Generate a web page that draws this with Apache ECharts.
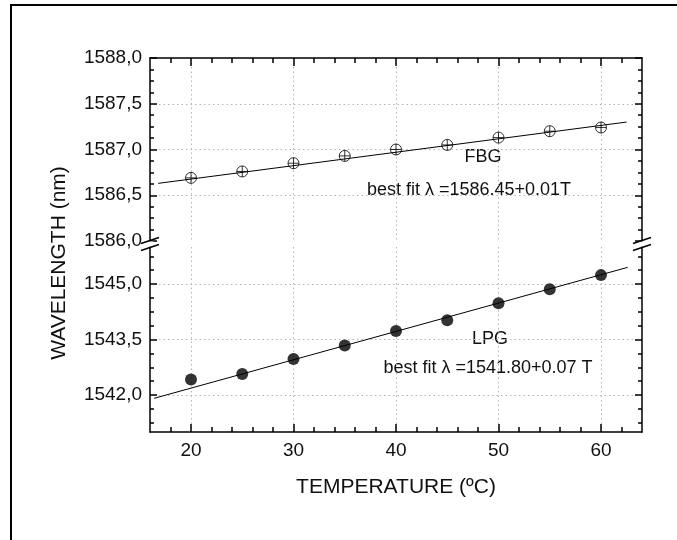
<!DOCTYPE html>
<html>
<head>
<meta charset="utf-8">
<script src="https://cdn.jsdelivr.net/npm/echarts@6/dist/echarts.min.js"></script>
<style>
html,body{margin:0;padding:0;background:#fff;}
#chart{width:677px;height:540px;}
</style>
</head>
<body>
<div id="chart"></div>
<script>
// ---- data ----
var temperature = [20, 25, 30, 35, 40, 45, 50, 55, 60];
var fbgWavelength = [1586.69, 1586.76, 1586.85, 1586.93, 1587.00, 1587.05, 1587.13, 1587.20, 1587.24];
var lpgWavelength = [1542.42, 1542.57, 1542.97, 1543.34, 1543.73, 1544.02, 1544.48, 1544.86, 1545.24];
var fbgFitT = [16.8, 62.5];
var fbgFitW = [1586.63, 1587.30];
var lpgFitT = [16.4, 62.6];
var lpgFitW = [1541.91, 1545.45];
var xMajorTicks = [20, 30, 40, 50, 60];
var xMinorTicks = [18, 22, 24, 26, 28, 32, 34, 36, 38, 42, 44, 46, 48, 52, 54, 56, 58, 62];
var lowerMajorTicks = [1542.0, 1543.5, 1545.0];
var lowerMinorTicks = [1541.25, 1541.625, 1542.375, 1542.75, 1543.125, 1543.875, 1544.25, 1544.625, 1545.375, 1545.75];
var xTitle = 'TEMPERATURE (ºC)';
var yTitle = 'WAVELENGTH (nm)';
var fbgName = 'FBG';
var fbgFitText = 'best fit λ =1586.45+0.01T';
var lpgName = 'LPG';
var lpgFitText = 'best fit λ =1541.80+0.07 T';

// ---- layout ----
var FONT = 'Liberation Sans, Arial, sans-serif';
var L = 150, R = 642, T1 = 58, B1 = 241, T2 = 247, B2 = 432;
var W = 677;
var lineStyle = {color: '#000', width: 1.5};
var gridStyle = {color: '#b4b4b4', width: 1, type: [1.5, 3]};
function fmt(v) { return v.toFixed(1).replace('.', ','); }
function pairs(xs, ys) { return xs.map(function (x, i) { return [x, ys[i]]; }); }

function xAxisDef(grid, pos, major, labels, split) {
  return {
    type: 'value', gridIndex: grid, position: pos, min: 16, max: 64,
    axisLine: {show: major, lineStyle: lineStyle, onZero: false},
    axisTick: {show: true, inside: true, length: major ? 8 : 5, lineStyle: lineStyle,
               customValues: major ? xMajorTicks : xMinorTicks},
    axisLabel: {show: labels, customValues: xMajorTicks, color: '#111', fontFamily: FONT, fontSize: 19, margin: 9},
    splitLine: {show: split, lineStyle: gridStyle}
  };
}
function lowerYAxis(pos, major, labels, split) {
  return {
    type: 'value', gridIndex: 1, position: pos, min: 1541, max: 1546,
    axisLine: {show: major, lineStyle: lineStyle, onZero: false},
    axisTick: {show: true, inside: true, length: major ? 7 : 4, lineStyle: lineStyle,
               customValues: major ? lowerMajorTicks : lowerMinorTicks},
    axisLabel: {show: labels, customValues: lowerMajorTicks, formatter: fmt, color: '#111', fontFamily: FONT, fontSize: 19, margin: 8},
    splitLine: {show: split, lineStyle: gridStyle}
  };
}
function upperYAxis(pos, labels, split) {
  return {
    type: 'value', gridIndex: 0, position: pos, min: 1586, max: 1588, interval: 0.5,
    axisLine: {show: true, lineStyle: lineStyle, onZero: false},
    axisTick: {show: true, inside: true, length: 7, lineStyle: lineStyle},
    minorTick: {show: true, splitNumber: 4, length: 4, lineStyle: lineStyle},
    axisLabel: {show: labels, formatter: fmt, color: '#111', fontFamily: FONT, fontSize: 19, margin: 8,
                showMinLabel: true, showMaxLabel: true},
    splitLine: {show: split, showMinLine: false, showMaxLine: false, lineStyle: gridStyle}
  };
}

var crossCircle = 'path://M0,-10A10,10,0,1,1,0,10A10,10,0,1,1,0,-10ZM-10,0L10,0M0,-10L0,10';

var chart = echarts.init(document.getElementById('chart'), null, {renderer: 'canvas'});

function breakMarks(x) {
  return [
    {type: 'line', shape: {x1: x - 9, y1: 243.5, x2: x + 9, y2: 237.5}, style: {stroke: '#000', lineWidth: 1.5}, z: 100},
    {type: 'line', shape: {x1: x - 9, y1: 250.5, x2: x + 9, y2: 244.5}, style: {stroke: '#000', lineWidth: 1.5}, z: 100}
  ];
}

var option = {
  backgroundColor: '#fff',
  animation: false,
  grid: [
    {left: L, right: W - R, top: T1, height: B1 - T1, outerBoundsMode: 'none'},
    {left: L, right: W - R, top: T2, height: B2 - T2, outerBoundsMode: 'none'}
  ],
  xAxis: [
    xAxisDef(0, 'top', true, false, true),
    xAxisDef(0, 'top', false, false, false),
    xAxisDef(1, 'bottom', true, true, true),
    xAxisDef(1, 'bottom', false, false, false)
  ],
  yAxis: [
    upperYAxis('left', true, true),
    upperYAxis('right', false, false),
    lowerYAxis('left', true, true, true),
    lowerYAxis('left', false, false, false),
    lowerYAxis('right', true, false, false),
    lowerYAxis('right', false, false, false)
  ],
  series: [
    {type: 'line', xAxisIndex: 0, yAxisIndex: 0, data: pairs(fbgFitT, fbgFitW), showSymbol: false,
     lineStyle: {color: '#000', width: 1}, z: 2, silent: true},
    {type: 'scatter', xAxisIndex: 0, yAxisIndex: 0, data: pairs(temperature, fbgWavelength),
     symbol: crossCircle, symbolSize: 11,
     itemStyle: {color: 'rgba(255,255,255,0)', borderColor: '#000', borderWidth: 1}, z: 3},
    {type: 'line', xAxisIndex: 2, yAxisIndex: 2, data: pairs(lpgFitT, lpgFitW), showSymbol: false,
     lineStyle: {color: '#000', width: 1}, z: 2, silent: true},
    {type: 'scatter', xAxisIndex: 2, yAxisIndex: 2, data: pairs(temperature, lpgWavelength),
     symbol: 'circle', symbolSize: 12, itemStyle: {color: '#000'}, z: 3}
  ],
  graphic: [
    {type: 'rect', shape: {x: 11, y: 5, width: 720, height: 600}, style: {fill: 'none', stroke: '#000', lineWidth: 2}, silent: true},
    {type: 'rect', shape: {x: L - 3, y: B1 + 0.5, width: 6, height: T2 - B1 - 1}, style: {fill: '#fff'}, z: 99},
    {type: 'rect', shape: {x: R - 3, y: B1 + 0.5, width: 6, height: T2 - B1 - 1}, style: {fill: '#fff'}, z: 99}
  ].concat(breakMarks(L)).concat(breakMarks(R)).concat([
    {type: 'text', x: 396, y: 487, style: {text: xTitle, font: '21px ' + FONT, fill: '#111', align: 'center', verticalAlign: 'middle'}},
    {type: 'text', x: 59.5, y: 263, rotation: Math.PI / 2, style: {text: yTitle, font: '21px ' + FONT, fill: '#111', align: 'center', verticalAlign: 'middle'}},
    {type: 'text', x: 483, y: 157, style: {text: fbgName, font: '18px ' + FONT, fill: '#111', align: 'center', verticalAlign: 'middle'}},
    {type: 'text', x: 469, y: 190, style: {text: fbgFitText, font: '18px ' + FONT, fill: '#111', align: 'center', verticalAlign: 'middle'}},
    {type: 'text', x: 490, y: 339, style: {text: lpgName, font: '18px ' + FONT, fill: '#111', align: 'center', verticalAlign: 'middle'}},
    {type: 'text', x: 488, y: 368, style: {text: lpgFitText, font: '18px ' + FONT, fill: '#111', align: 'center', verticalAlign: 'middle'}}
  ])
};
chart.setOption(option);
</script>
</body>
</html>
